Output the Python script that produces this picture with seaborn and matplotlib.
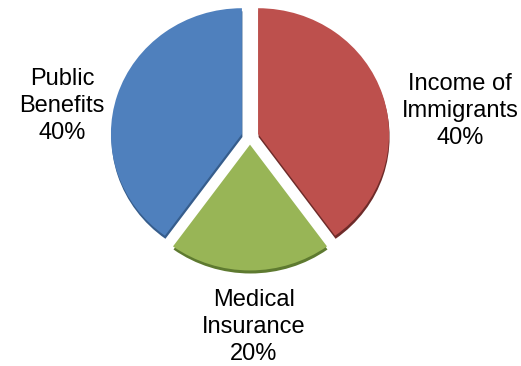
import matplotlib
matplotlib.use("Agg")
import matplotlib.pyplot as plt
import seaborn as sns

sns.set_theme(style="white")
plt.rcParams["font.family"] = ["Liberation Sans", "DejaVu Sans"]

# Funding sources and their shares
categories = ["Income of\nImmigrants", "Medical\nInsurance", "Public\nBenefits"]
shares = [40, 20, 40]

face_colors = ["#BD504D", "#98B556", "#4F80BD"]
edge_colors = ["#6E2B29", "#5E7A30", "#365D8C"]

W, H = 521, 366
squash = 0.96          # slight vertical tilt of the pie
fig = plt.figure(figsize=(W / 100, H / 100), dpi=100)
ax = fig.add_axes([0, 0, 1, 1])
ax.axis("off")


def ypix(py):
    """Convert a top-down pixel row to data y."""
    return (H - py) / squash


cx, cy, r = 250, ypix(136.5), 131
# pie offsets are in data units
explode = [8.5] * len(shares)

# darker copy underneath gives the bevelled 3D edge
ax.pie(shares, colors=edge_colors, startangle=90, counterclock=False,
       explode=explode, radius=r, center=(cx + 0.5, cy - 3.2),
       wedgeprops=dict(linewidth=0))
ax.pie(shares, colors=face_colors, startangle=90, counterclock=False,
       explode=explode, radius=r, center=(cx, cy),
       wedgeprops=dict(linewidth=0))

ax.set_aspect("auto")
ax.set_xlim(0, W)
ax.set_ylim(0, H / squash)

label_pos = [(460, ypix(111)), (254, ypix(327)), (62, ypix(106))]
for name, val, (x, y) in zip(categories, shares, label_pos):
    ax.text(x, y, f"{name}\n{val}%", ha="center", va="center",
            fontsize=17, color="black", linespacing=1.3)

fig.savefig("out.png", dpi=100)
